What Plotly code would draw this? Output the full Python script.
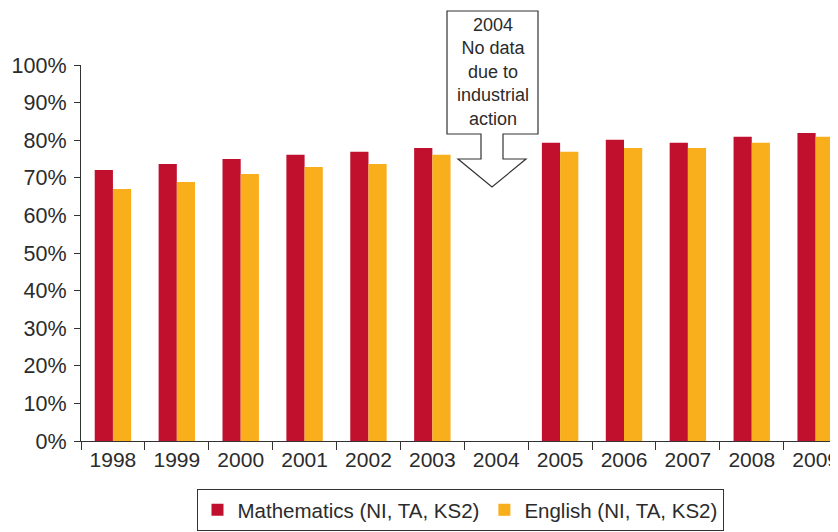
import plotly.graph_objects as go

years = ["1998", "1999", "2000", "2001", "2002", "2003", "2004",
         "2005", "2006", "2007", "2008", "2009"]
maths = [72.1, 73.7, 75.0, 76.1, 76.9, 77.9, None, 79.3, 80.1, 79.3, 80.9, 81.9]
english = [67.0, 68.9, 71.0, 72.9, 73.7, 76.1, None, 76.9, 77.9, 77.9, 79.3, 80.9]
y_ticks = [0, 10, 20, 30, 40, 50, 60, 70, 80, 90, 100]
y_tick_labels = [f"{v}%" for v in y_ticks]
callout_text = "2004<br>No data<br>due to<br>industrial<br>action"

RED = "#C0102E"
ORANGE = "#F9AE1B"
TXT = "#2b2b2b"
FONT = "Liberation Sans, Arial, sans-serif"

# page has an 8px body margin; figure is sized to fit the 838x532 window
OFF = 8
FW, FH = 838 - OFF, 532 - OFF

fig = go.Figure()
fig.add_trace(go.Bar(x=years, y=maths, name="Mathematics (NI, TA, KS2)",
                     marker_color=RED, marker_line_width=0))
fig.add_trace(go.Bar(x=years, y=english, name="English (NI, TA, KS2)",
                     marker_color=ORANGE, marker_line_width=0))

# plot area in window pixels: left 81, right 838, top 65, bottom 441
L, R, T, B = 81, 838, 65, 441
W, H = R - L, B - T

def px(x):
    return (x - L) / W

def py(y):
    return (B - y) / H

pts = [(447, 11), (538, 11), (538, 134), (503, 134), (503, 159), (526, 159),
       (492, 187), (458, 159), (481, 159), (481, 134), (447, 134)]
path = "M " + " L ".join(f"{px(x):.5f},{py(y):.5f}" for x, y in pts) + " Z"
fig.add_shape(type="path", xref="paper", yref="paper", path=path,
              line=dict(color="#333333", width=1.2), fillcolor="white", layer="above")
fig.add_annotation(xref="paper", yref="paper", x=px(492.5), y=py(72), text=callout_text,
                   showarrow=False, xanchor="center", yanchor="middle",
                   font=dict(family=FONT, size=18, color=TXT), align="center")

fig.update_layout(
    width=FW, height=FH,
    margin=dict(l=L - OFF, r=0, t=T - OFF, b=FH - (B - OFF)),
    paper_bgcolor="white", plot_bgcolor="white",
    font=dict(family=FONT, size=21, color=TXT),
    barmode="group", bargap=0.43, bargroupgap=0,
    showlegend=True,
    legend=dict(orientation="h", x=px(460), xanchor="center", y=py(531), yanchor="bottom",
                bordercolor="#333333", borderwidth=1, bgcolor="white",
                font=dict(family=FONT, size=20.5, color=TXT),
                itemwidth=30, tracegroupgap=0, traceorder="normal"),
    xaxis=dict(type="category", range=[-0.5, 11.35], showline=True, linecolor="#333333",
               linewidth=1.2, ticks="outside", tickson="boundaries", ticklen=8,
               tickcolor="#333333", showgrid=False, tickfont=dict(size=21)),
    yaxis=dict(range=[0, 100], tickvals=y_ticks, ticktext=y_tick_labels,
               showline=True, linecolor="#333333", linewidth=1.2, ticks="outside",
               ticklen=6, tickcolor="#333333", showgrid=False, zeroline=False,
               ticklabelstandoff=3, tickfont=dict(size=21.5)),
)

fig.write_html("out.html")
